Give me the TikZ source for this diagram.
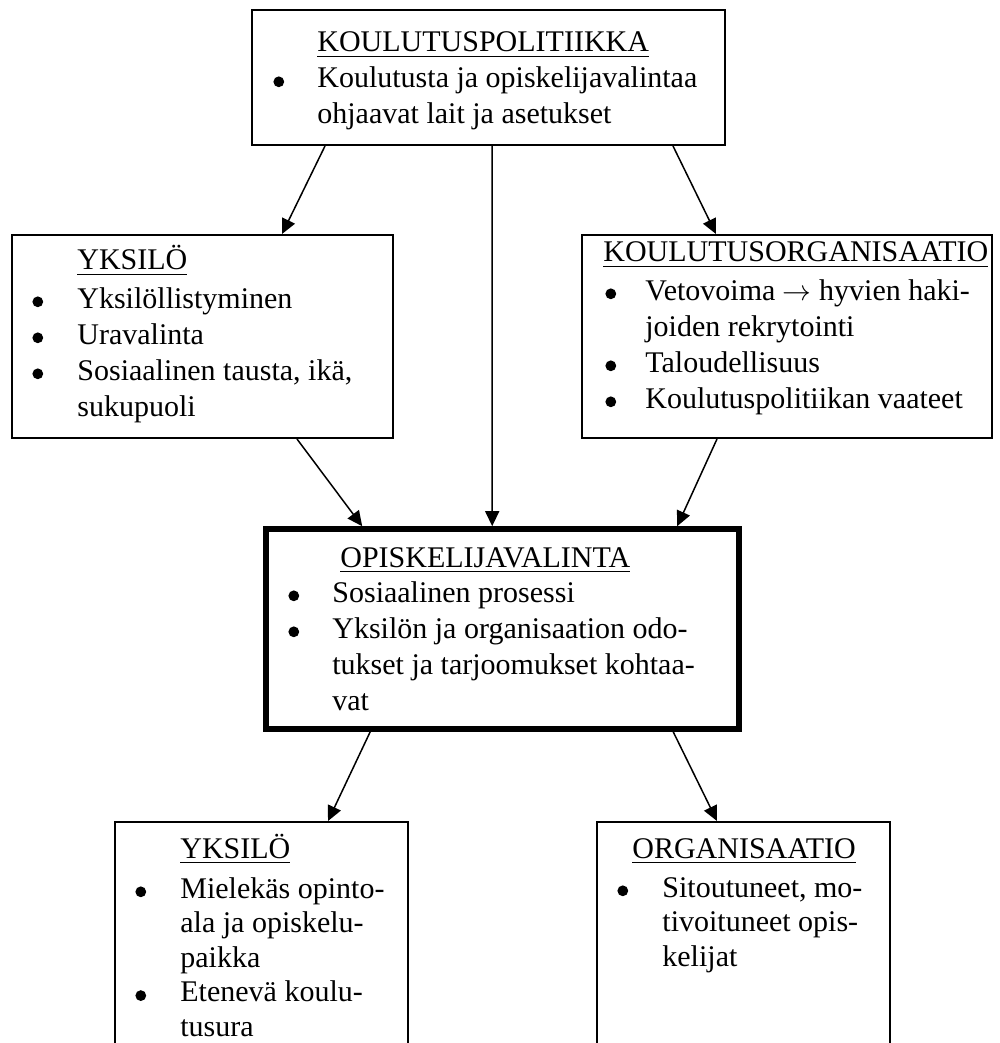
\documentclass[tikz,border=0pt]{standalone}
\usepackage{fontspec}
\setmainfont{Liberation Serif}
\usetikzlibrary{arrows.meta,calc}
\newsavebox\hdrbox
\newcommand{\hdr}[1]{\sbox\hdrbox{#1}\rlap{\rule[-2.6pt]{\wd\hdrbox}{0.8pt}}\usebox\hdrbox}
\newcommand{\bul}{\tikz[baseline=0pt]\fill[black] (2.7pt,3.1pt) circle[radius=2.7pt];}
\begin{document}
\begin{tikzpicture}[x=0.5pt,y=-0.5pt,
  box/.style={draw,line width=1pt,rectangle,inner sep=0pt},
  thickbox/.style={draw,line width=2.8pt,rectangle,inner sep=0pt},
  txt/.style={anchor=base west,inner sep=0pt,font=\fontsize{15}{18}\selectfont},
  txtb/.style={anchor=base west,inner sep=0pt,font=\fontsize{15}{17.3}\selectfont},
  arr/.style={-{Triangle[length=7.5pt,width=7pt]},line width=0.75pt}]
\clip (0,0) rectangle (1000,1043);
% boxes
\node[box,minimum width=236.5pt,minimum height=67.5pt] (top) at (488.5,77.5) {};
\node[box,minimum width=190.5pt,minimum height=101.5pt] (left) at (202.5,336.5) {};
\node[box,minimum width=205pt,minimum height=101.5pt] (right) at (787,336.5) {};
\node[thickbox,minimum width=236.5pt,minimum height=100pt] (mid) at (502.5,629) {};
\node[box,minimum width=146.5pt,minimum height=129pt] (bl) at (261.5,951) {};
\node[box,minimum width=146.5pt,minimum height=129pt] (br) at (743.5,951) {};
% texts
\node[txt] (tophdr) at (317,52) {\hdr{KOULUTUSPOLITIIKKA}};
\node[txt] (toptxt) at (273,88) {\begin{tabular}[t]{@{}p{22pt}@{}l@{}}
  \bul & Koulutusta ja opiskelijavalintaa\\
  & ohjaavat lait ja asetukset\end{tabular}};
\node[txt] (lefthdr) at (77,270) {\hdr{YKSILÖ}};
\node[txt] (lefttxt) at (32,308) {\begin{tabular}[t]{@{}p{22.5pt}@{}l@{}}
  \bul & Yksilöllistyminen\\
  \bul & Uravalinta\\
  \bul & Sosiaalinen tausta, ikä,\\
  & sukupuoli\end{tabular}};
\node[txt] (righthdr) at (603,262) {\hdr{KOULUTUSORGANISAATIO}};
\node[txt] (righttxt) at (605,300) {\begin{tabular}[t]{@{}p{20pt}@{}l@{}}
  \bul & Vetovoima $\rightarrow$ hyvien haki-\\
  & joiden rekrytointi\\
  \bul & Taloudellisuus\\
  \bul & Koulutuspolitiikan vaateet\end{tabular}};
\node[txt] (midhdr) at (340,567) {\hdr{OPISKELIJAVALINTA}};
\node[txt] (midtxt) at (288,602) {\begin{tabular}[t]{@{}p{22pt}@{}l@{}}
  \bul & Sosiaalinen prosessi\\
  \bul & Yksilön ja organisaation odo-\\
  & tukset ja tarjoomukset kohtaa-\\
  & vat\end{tabular}};
\node[txt] (blhdr) at (180,858) {\hdr{YKSILÖ}};
\node[txtb] (bltxt) at (135,898) {\begin{tabular}[t]{@{}p{22.5pt}@{}l@{}}
  \bul & Mielekäs opinto-\\
  & ala ja opiskelu-\\
  & paikka\\
  \bul & Etenevä koulu-\\
  & tusura\end{tabular}};
\node[txt] (brhdr) at (632,858) {\hdr{ORGANISAATIO}};
\node[txtb] (brtxt) at (617,897) {\begin{tabular}[t]{@{}p{22.5pt}@{}l@{}}
  \bul & Sitoutuneet, mo-\\
  & tivoituneet opis-\\
  & kelijat\end{tabular}};
% connectors
\draw[arr] ($(top.south west)+(74,0)$) -- ($(left.north west)+(271,0)$);
\draw[arr] ($(top.south west)+(241,0)$) -- ($(mid.north west)+(229,0)$);
\draw[arr] ($(top.south west)+(422,0)$) -- ($(right.north west)+(135,0)$);
\draw[arr] ($(left.south west)+(286,0)$) -- ($(mid.north west)+(99,0)$);
\draw[arr] ($(right.south west)+(136,0)$) -- ($(mid.north west)+(414,0)$);
\draw[arr] ($(mid.south west)+(107,0)$) -- ($(bl.north west)+(214,0)$);
\draw[arr] ($(mid.south west)+(410,0)$) -- ($(br.north west)+(121,0)$);
\end{tikzpicture}
\end{document}
